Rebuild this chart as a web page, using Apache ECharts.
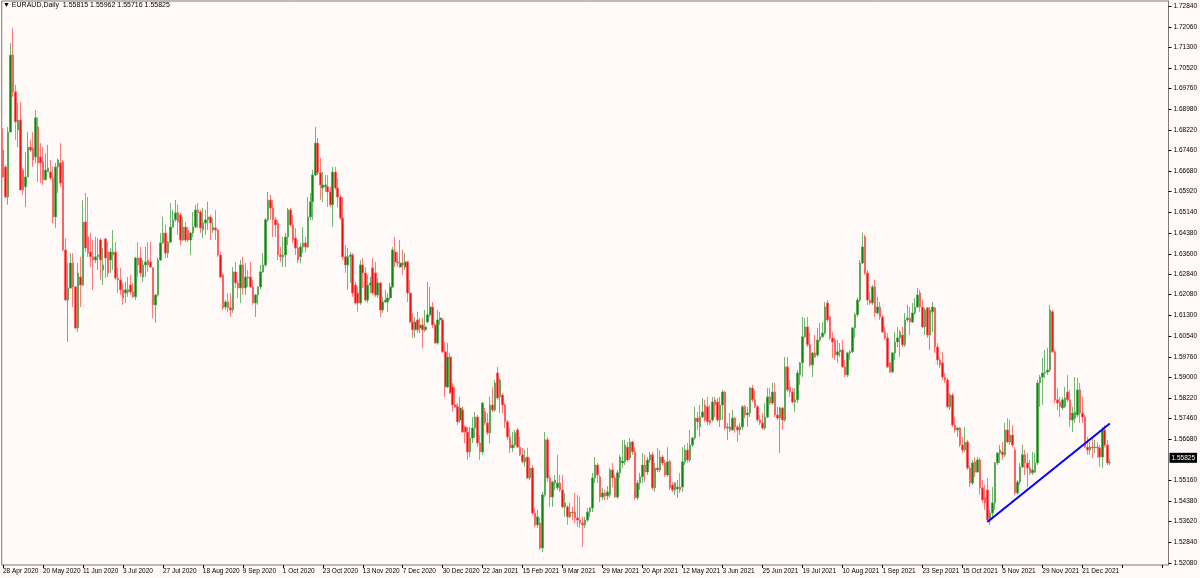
<!DOCTYPE html>
<html><head><meta charset="utf-8">
<script src="https://cdn.jsdelivr.net/npm/echarts@6/dist/echarts.min.js"></script>
<style>html,body{margin:0;padding:0;background:#fffaf7;}#c{width:1200px;height:578px;}</style>
</head><body><div id="c"></div>
<script>
const symbol = 'EURAUD';
const period = 'Daily';
const tickLabels = ['28 Apr 2020','20 May 2020','11 Jun 2020','3 Jul 2020','27 Jul 2020','18 Aug 2020','9 Sep 2020','1 Oct 2020','23 Oct 2020','13 Nov 2020','7 Dec 2020','30 Dec 2020','22 Jan 2021','15 Feb 2021','9 Mar 2021','29 Mar 2021','20 Apr 2021','12 May 2021','3 Jun 2021','25 Jun 2021','19 Jul 2021','10 Aug 2021','1 Sep 2021','23 Sep 2021','15 Oct 2021','5 Nov 2021','29 Nov 2021','21 Dec 2021'];
const yTicks = [1.72840,1.72060,1.71300,1.70520,1.69760,1.68980,1.68220,1.67460,1.66680,1.65920,1.65140,1.64380,1.63600,1.62840,1.62080,1.61300,1.60540,1.59760,1.59000,1.58220,1.57460,1.56680,1.55160,1.54380,1.53620,1.52840,1.52080];
const opens = [
1.6747,1.6684,1.6572,1.6814,1.7101,1.6964,1.6822,1.6859,1.6673,1.6610,
1.6647,1.6758,1.6755,1.6721,1.6833,1.6721,1.6703,1.6636,1.6665,1.6665,
1.6643,1.6498,1.6684,1.6699,1.6703,1.6375,1.6188,1.6233,1.6326,1.6237,
1.6084,1.6274,1.6244,1.6479,1.6423,1.6367,1.6349,1.6337,1.6349,1.6412,
1.6300,1.6416,1.6367,1.6337,1.6356,1.6367,1.6270,1.6263,1.6226,1.6214,
1.6218,1.6244,1.6218,1.6200,1.6345,1.6345,1.6274,1.6319,1.6337,1.6330,
1.6308,1.6170,1.6207,1.6337,1.6401,1.6438,1.6363,1.6404,1.6460,1.6487,
1.6513,1.6505,1.6412,1.6460,1.6449,1.6412,1.6438,1.6460,1.6524,1.6516,
1.6449,1.6475,1.6487,1.6498,1.6449,1.6457,1.6449,1.6356,1.6282,1.6162,
1.6181,1.6159,1.6151,1.6293,1.6252,1.6233,1.6319,1.6233,1.6274,1.6274,
1.6237,1.6177,1.6207,1.6237,1.6293,1.6319,1.6487,1.6561,1.6531,1.6487,
1.6475,1.6356,1.6349,1.6356,1.6423,1.6524,1.6468,1.6419,1.6382,1.6349,
1.6386,1.6401,1.6386,1.6498,1.6554,1.6654,1.6773,1.6662,1.6606,1.6610,
1.6610,1.6591,1.6543,1.6665,1.6606,1.6572,1.6494,1.6349,1.6319,1.6349,
1.6356,1.6244,1.6214,1.6177,1.6319,1.6289,1.6188,1.6244,1.6308,1.6289,
1.6207,1.6252,1.6151,1.6181,1.6181,1.6196,1.6237,1.6367,1.6330,1.6311,
1.6326,1.6311,1.6330,1.6214,1.6106,1.6077,1.6114,1.6084,1.6095,1.6077,
1.6106,1.6133,1.6162,1.6095,1.6028,1.6114,1.6114,1.5995,1.5864,1.5976,
1.5864,1.5797,1.5790,1.5741,1.5778,1.5715,1.5696,1.5622,1.5674,1.5711,
1.5752,1.5655,1.5622,1.5771,1.5730,1.5693,1.5797,1.5778,1.5916,1.5827,
1.5834,1.5797,1.5734,1.5678,1.5637,1.5648,1.5704,1.5640,1.5611,1.5585,
1.5603,1.5525,1.5562,1.5394,1.5350,1.5357,1.5264,1.5462,1.5667,1.5525,
1.5454,1.5506,1.5488,1.5506,1.5480,1.5417,1.5417,1.5380,1.5398,1.5398,
1.5376,1.5368,1.5357,1.5350,1.5368,1.5398,1.5413,1.5525,1.5573,1.5529,
1.5454,1.5469,1.5458,1.5462,1.5555,1.5525,1.5454,1.5544,1.5581,1.5585,
1.5640,1.5600,1.5659,1.5622,1.5451,1.5506,1.5529,1.5573,1.5547,1.5592,
1.5611,1.5488,1.5562,1.5555,1.5603,1.5581,1.5536,1.5585,1.5499,1.5480,
1.5484,1.5491,1.5491,1.5585,1.5629,1.5592,1.5648,1.5674,1.5748,1.5715,
1.5752,1.5797,1.5790,1.5741,1.5741,1.5816,1.5808,1.5741,1.5797,1.5845,
1.5711,1.5715,1.5704,1.5748,1.5715,1.5704,1.5715,1.5790,1.5760,1.5767,
1.5860,1.5816,1.5790,1.5741,1.5730,1.5711,1.5752,1.5827,1.5804,1.5845,
1.5760,1.5748,1.5786,1.5741,1.5939,1.5864,1.5845,1.5808,1.5816,1.5909,
1.5954,1.6051,1.6088,1.6021,1.5946,1.5991,1.5983,1.6039,1.6051,1.6065,
1.6177,1.6125,1.6047,1.6039,1.5983,1.5995,1.6002,1.5939,1.5909,1.5991,
1.5995,1.6084,1.6133,1.6188,1.6326,1.6423,1.6289,1.6188,1.6177,1.6237,
1.6140,1.6162,1.6125,1.6069,1.6047,1.5954,1.5920,1.5991,1.6032,1.6047,
1.6058,1.6021,1.6114,1.6121,1.6106,1.6140,1.6162,1.6214,1.6162,1.6088,
1.6159,1.6058,1.6144,1.6159,1.6013,1.5965,1.5954,1.5901,1.5890,1.5790,
1.5834,1.5722,1.5704,1.5711,1.5648,1.5629,1.5659,1.5562,1.5506,1.5585,
1.5547,1.5592,1.5488,1.5451,1.5480,1.5368,1.5394,1.5432,1.5581,1.5618,
1.5622,1.5611,1.5704,1.5659,1.5685,1.5629,1.5469,1.5510,1.5566,1.5611,
1.5581,1.5562,1.5544,1.5547,1.5581,1.5879,1.5901,1.5916,1.5920,1.5927,
1.6144,1.5995,1.5816,1.5808,1.5786,1.5790,1.5845,1.5816,1.5741,1.5748,
1.5760,1.5853,1.5767,1.5752,1.5640,1.5629,1.5640,1.5637,1.5640,1.5637,
1.5603,1.5704,1.5648,1.55815];
const closes = [
1.6647,1.6572,1.6814,1.7101,1.6964,1.6852,1.6859,1.6598,1.6598,1.6647,
1.6758,1.6747,1.6710,1.6867,1.6699,1.6699,1.6636,1.6673,1.6680,1.6643,
1.6498,1.6684,1.6710,1.6624,1.6375,1.6188,1.6233,1.6326,1.6237,1.6084,
1.6289,1.6244,1.6479,1.6382,1.6363,1.6349,1.6337,1.6349,1.6356,1.6337,
1.6319,1.6345,1.6289,1.6367,1.6367,1.6270,1.6263,1.6226,1.6196,1.6226,
1.6226,1.6218,1.6200,1.6345,1.6319,1.6289,1.6319,1.6330,1.6319,1.6311,
1.6170,1.6207,1.6337,1.6401,1.6438,1.6363,1.6404,1.6460,1.6487,1.6513,
1.6479,1.6412,1.6460,1.6412,1.6412,1.6438,1.6460,1.6524,1.6513,1.6457,
1.6475,1.6487,1.6498,1.6475,1.6460,1.6449,1.6356,1.6274,1.6159,1.6181,
1.6159,1.6151,1.6293,1.6252,1.6233,1.6319,1.6233,1.6274,1.6270,1.6237,
1.6177,1.6207,1.6237,1.6293,1.6319,1.6487,1.6561,1.6531,1.6487,1.6468,
1.6356,1.6349,1.6356,1.6423,1.6524,1.6468,1.6412,1.6382,1.6337,1.6386,
1.6401,1.6386,1.6498,1.6554,1.6654,1.6773,1.6662,1.6617,1.6617,1.6617,
1.6591,1.6543,1.6665,1.6606,1.6572,1.6494,1.6349,1.6319,1.6349,1.6356,
1.6214,1.6177,1.6177,1.6319,1.6289,1.6188,1.6244,1.6252,1.6214,1.6207,
1.6252,1.6151,1.6181,1.6188,1.6196,1.6237,1.6375,1.6330,1.6326,1.6326,
1.6319,1.6330,1.6214,1.6106,1.6077,1.6106,1.6077,1.6095,1.6077,1.6088,
1.6133,1.6162,1.6095,1.6028,1.6114,1.6121,1.5995,1.5864,1.5976,1.5842,
1.5797,1.5790,1.5734,1.5786,1.5696,1.5696,1.5622,1.5674,1.5711,1.5752,
1.5655,1.5622,1.5804,1.5730,1.5693,1.5797,1.5778,1.5879,1.5823,1.5890,
1.5797,1.5734,1.5678,1.5637,1.5648,1.5693,1.5640,1.5611,1.5585,1.5600,
1.5525,1.5562,1.5394,1.5350,1.5380,1.5264,1.5462,1.5667,1.5525,1.5454,
1.5510,1.5517,1.5506,1.5480,1.5417,1.5432,1.5380,1.5398,1.5394,1.5376,
1.5368,1.5357,1.5350,1.5368,1.5398,1.5413,1.5525,1.5573,1.5536,1.5454,
1.5469,1.5458,1.5473,1.5555,1.5525,1.5454,1.5544,1.5603,1.5588,1.5648,
1.5592,1.5659,1.5622,1.5451,1.5506,1.5529,1.5573,1.5547,1.5592,1.5611,
1.5488,1.5562,1.5555,1.5603,1.5581,1.5536,1.5585,1.5488,1.5480,1.5506,
1.5491,1.5480,1.5585,1.5629,1.5592,1.5648,1.5674,1.5748,1.5734,1.5752,
1.5771,1.5741,1.5734,1.5730,1.5808,1.5797,1.5741,1.5797,1.5845,1.5711,
1.5715,1.5704,1.5748,1.5715,1.5704,1.5715,1.5790,1.5760,1.5767,1.5860,
1.5816,1.5790,1.5741,1.5730,1.5711,1.5752,1.5827,1.5804,1.5845,1.5760,
1.5748,1.5786,1.5741,1.5939,1.5853,1.5845,1.5808,1.5816,1.5916,1.5954,
1.6051,1.6088,1.6021,1.5946,1.5991,1.5976,1.6039,1.6051,1.6065,1.6162,
1.6114,1.6047,1.6032,1.5983,1.5995,1.6002,1.5939,1.5909,1.5991,1.5995,
1.6084,1.6133,1.6188,1.6326,1.6386,1.6289,1.6188,1.6177,1.6237,1.6140,
1.6162,1.6125,1.6069,1.6047,1.5939,1.5920,1.5991,1.6032,1.6047,1.6069,
1.6021,1.6114,1.6121,1.6106,1.6140,1.6162,1.6207,1.6162,1.6088,1.6151,
1.6058,1.6151,1.6162,1.6013,1.5965,1.5946,1.5901,1.5890,1.5790,1.5834,
1.5722,1.5704,1.5711,1.5648,1.5629,1.5659,1.5562,1.5506,1.5581,1.5547,
1.5592,1.5488,1.5443,1.5432,1.5368,1.5394,1.5432,1.5581,1.5618,1.5629,
1.5611,1.5704,1.5659,1.5685,1.5648,1.5469,1.5510,1.5566,1.5611,1.5581,
1.5562,1.5544,1.5555,1.5581,1.5879,1.5901,1.5916,1.5920,1.5927,1.6151,
1.5995,1.5816,1.5804,1.5790,1.5816,1.5823,1.5816,1.5741,1.5767,1.5771,
1.5853,1.5767,1.5752,1.5640,1.5629,1.5640,1.5637,1.5640,1.5637,1.5603,
1.5704,1.5648,1.5581,1.55825];
const lows = [
1.6643,1.6569,1.6543,1.6814,1.6945,1.6785,1.6758,1.6598,1.6580,1.6535,
1.6647,1.6740,1.6684,1.6699,1.6628,1.6624,1.6617,1.6636,1.6665,1.6636,
1.6475,1.6457,1.6587,1.6610,1.6370,1.6185,1.6032,1.6230,1.6162,1.6080,
1.6069,1.6162,1.6240,1.6367,1.6349,1.6311,1.6226,1.6326,1.6300,1.6263,
1.6244,1.6270,1.6274,1.6289,1.6300,1.6263,1.6214,1.6207,1.6170,1.6177,
1.6200,1.6207,1.6196,1.6188,1.6274,1.6274,1.6256,1.6274,1.6293,1.6308,
1.6121,1.6103,1.6200,1.6334,1.6397,1.6345,1.6345,1.6400,1.6457,1.6479,
1.6431,1.6393,1.6408,1.6404,1.6404,1.6356,1.6423,1.6457,1.6457,1.6438,
1.6419,1.6431,1.6449,1.6412,1.6438,1.6412,1.6349,1.6270,1.6151,1.6151,
1.6144,1.6125,1.6140,1.6233,1.6196,1.6177,1.6207,1.6207,1.6237,1.6233,
1.6170,1.6125,1.6170,1.6226,1.6289,1.6311,1.6479,1.6487,1.6423,1.6423,
1.6337,1.6330,1.6311,1.6311,1.6393,1.6460,1.6401,1.6356,1.6326,1.6326,
1.6363,1.6367,1.6382,1.6487,1.6487,1.6650,1.6654,1.6561,1.6554,1.6591,
1.6535,1.6535,1.6460,1.6598,1.6535,1.6487,1.6337,1.6289,1.6226,1.6252,
1.6200,1.6170,1.6144,1.6170,1.6233,1.6181,1.6177,1.6214,1.6207,1.6200,
1.6196,1.6125,1.6140,1.6177,1.6144,1.6188,1.6233,1.6311,1.6311,1.6308,
1.6282,1.6300,1.6181,1.6103,1.6047,1.6047,1.6065,1.6065,1.6010,1.6069,
1.6103,1.6125,1.6084,1.6025,1.6021,1.6095,1.5991,1.5827,1.5860,1.5838,
1.5771,1.5786,1.5722,1.5730,1.5693,1.5655,1.5592,1.5603,1.5655,1.5674,
1.5640,1.5592,1.5611,1.5722,1.5685,1.5655,1.5771,1.5771,1.5816,1.5767,
1.5767,1.5711,1.5667,1.5618,1.5622,1.5637,1.5637,1.5607,1.5581,1.5566,
1.5521,1.5517,1.5387,1.5342,1.5339,1.5257,1.5249,1.5454,1.5510,1.5417,
1.5417,1.5480,1.5480,1.5473,1.5413,1.5380,1.5350,1.5376,1.5368,1.5357,
1.5342,1.5339,1.5268,1.5339,1.5361,1.5380,1.5398,1.5506,1.5506,1.5435,
1.5443,1.5443,1.5443,1.5451,1.5491,1.5451,1.5447,1.5525,1.5562,1.5573,
1.5585,1.5592,1.5611,1.5443,1.5443,1.5480,1.5506,1.5510,1.5536,1.5581,
1.5480,1.5473,1.5547,1.5547,1.5573,1.5529,1.5529,1.5480,1.5473,1.5462,
1.5451,1.5469,1.5473,1.5573,1.5581,1.5585,1.5640,1.5667,1.5704,1.5678,
1.5748,1.5734,1.5722,1.5722,1.5734,1.5752,1.5734,1.5715,1.5741,1.5704,
1.5667,1.5696,1.5700,1.5693,1.5659,1.5685,1.5704,1.5748,1.5715,1.5752,
1.5808,1.5786,1.5734,1.5722,1.5704,1.5704,1.5748,1.5797,1.5797,1.5752,
1.5741,1.5618,1.5704,1.5734,1.5845,1.5827,1.5804,1.5771,1.5804,1.5872,
1.5901,1.6047,1.6013,1.5939,1.5901,1.5972,1.5976,1.6032,1.6047,1.6058,
1.6106,1.6039,1.5972,1.5965,1.5954,1.5976,1.5935,1.5901,1.5901,1.5965,
1.5991,1.6047,1.6125,1.6181,1.6323,1.6282,1.6170,1.6170,1.6170,1.6125,
1.6133,1.6114,1.6065,1.6039,1.5935,1.5916,1.5916,1.5965,1.6013,1.5976,
1.6013,1.6013,1.6106,1.6058,1.6103,1.6133,1.6159,1.6144,1.6084,1.6058,
1.6047,1.6002,1.6069,1.5991,1.5946,1.5935,1.5890,1.5879,1.5786,1.5778,
1.5715,1.5693,1.5678,1.5640,1.5618,1.5622,1.5555,1.5491,1.5499,1.5529,
1.5544,1.5462,1.5432,1.5406,1.5361,1.5350,1.5380,1.5406,1.5573,1.5581,
1.5592,1.5603,1.5655,1.5648,1.5640,1.5462,1.5462,1.5499,1.5562,1.5536,
1.5491,1.5536,1.5536,1.5544,1.5573,1.5790,1.5797,1.5898,1.5909,1.5920,
1.5991,1.5804,1.5778,1.5752,1.5778,1.5786,1.5808,1.5715,1.5696,1.5730,
1.5752,1.5730,1.5730,1.5637,1.5611,1.5611,1.5600,1.5618,1.5600,1.5566,
1.5562,1.5640,1.5573,1.55716];
const highs = [
1.6829,1.6692,1.6833,1.7146,1.7202,1.6990,1.6923,1.6926,1.6680,1.6740,
1.6814,1.6785,1.6814,1.6896,1.6870,1.6773,1.6758,1.6736,1.6766,1.6710,
1.6684,1.6699,1.6715,1.6773,1.6710,1.6419,1.6326,1.6363,1.6363,1.6240,
1.6326,1.6349,1.6561,1.6587,1.6572,1.6438,1.6412,1.6423,1.6419,1.6419,
1.6382,1.6419,1.6404,1.6382,1.6449,1.6404,1.6308,1.6308,1.6252,1.6256,
1.6274,1.6282,1.6252,1.6349,1.6404,1.6386,1.6337,1.6386,1.6404,1.6404,
1.6311,1.6210,1.6345,1.6438,1.6498,1.6468,1.6408,1.6550,1.6524,1.6561,
1.6543,1.6513,1.6498,1.6479,1.6460,1.6442,1.6516,1.6543,1.6550,1.6524,
1.6531,1.6524,1.6554,1.6505,1.6494,1.6524,1.6453,1.6367,1.6289,1.6188,
1.6214,1.6214,1.6311,1.6330,1.6263,1.6337,1.6349,1.6326,1.6300,1.6330,
1.6263,1.6210,1.6240,1.6319,1.6363,1.6494,1.6591,1.6580,1.6561,1.6498,
1.6487,1.6386,1.6423,1.6438,1.6531,1.6531,1.6505,1.6457,1.6412,1.6401,
1.6460,1.6423,1.6572,1.6587,1.6673,1.6833,1.6792,1.6718,1.6665,1.6654,
1.6654,1.6610,1.6684,1.6684,1.6643,1.6580,1.6572,1.6393,1.6382,1.6367,
1.6363,1.6256,1.6237,1.6337,1.6345,1.6311,1.6282,1.6274,1.6345,1.6330,
1.6270,1.6256,1.6200,1.6226,1.6214,1.6252,1.6386,1.6423,1.6367,1.6412,
1.6375,1.6363,1.6334,1.6263,1.6140,1.6125,1.6144,1.6121,1.6121,1.6151,
1.6256,1.6237,1.6181,1.6103,1.6151,1.6144,1.6121,1.6032,1.6028,1.5991,
1.5879,1.5864,1.5804,1.5827,1.5790,1.5722,1.5715,1.5715,1.5752,1.5771,
1.5760,1.5685,1.5808,1.5786,1.5767,1.5827,1.5864,1.5890,1.5939,1.5898,
1.5842,1.5804,1.5741,1.5711,1.5696,1.5704,1.5711,1.5678,1.5637,1.5629,
1.5637,1.5600,1.5573,1.5413,1.5406,1.5376,1.5473,1.5696,1.5678,1.5536,
1.5514,1.5536,1.5611,1.5536,1.5536,1.5469,1.5424,1.5432,1.5417,1.5469,
1.5462,1.5454,1.5380,1.5380,1.5413,1.5417,1.5544,1.5603,1.5581,1.5536,
1.5488,1.5480,1.5495,1.5562,1.5581,1.5536,1.5555,1.5611,1.5667,1.5667,
1.5659,1.5674,1.5663,1.5640,1.5517,1.5544,1.5618,1.5611,1.5603,1.5622,
1.5622,1.5581,1.5637,1.5629,1.5611,1.5592,1.5640,1.5592,1.5510,1.5510,
1.5517,1.5544,1.5640,1.5648,1.5655,1.5704,1.5678,1.5790,1.5771,1.5797,
1.5823,1.5816,1.5827,1.5797,1.5827,1.5827,1.5823,1.5827,1.5853,1.5849,
1.5730,1.5767,1.5778,1.5752,1.5722,1.5730,1.5797,1.5797,1.5790,1.5864,
1.5872,1.5853,1.5797,1.5760,1.5767,1.5804,1.5860,1.5860,1.5879,1.5879,
1.5790,1.5790,1.5790,1.5976,1.5976,1.5890,1.5860,1.5860,1.5927,1.5957,
1.6125,1.6121,1.6125,1.6065,1.5995,1.6058,1.6084,1.6103,1.6106,1.6181,
1.6188,1.6129,1.6069,1.6047,1.6039,1.6028,1.6039,1.5965,1.5995,1.6002,
1.6088,1.6140,1.6196,1.6337,1.6438,1.6431,1.6300,1.6218,1.6244,1.6263,
1.6200,1.6181,1.6133,1.6088,1.6065,1.5957,1.5995,1.6069,1.6088,1.6077,
1.6088,1.6140,1.6170,1.6162,1.6177,1.6196,1.6233,1.6226,1.6188,1.6159,
1.6162,1.6162,1.6181,1.6162,1.6028,1.5976,1.5995,1.5916,1.5898,1.5842,
1.5842,1.5752,1.5715,1.5715,1.5678,1.5715,1.5667,1.5573,1.5592,1.5603,
1.5603,1.5600,1.5517,1.5499,1.5525,1.5406,1.5491,1.5585,1.5622,1.5648,
1.5659,1.5730,1.5748,1.5741,1.5722,1.5640,1.5517,1.5581,1.5648,1.5629,
1.5618,1.5592,1.5622,1.5618,1.5890,1.5909,1.5972,1.6002,1.6010,1.6170,
1.6151,1.6002,1.5860,1.5827,1.5827,1.5864,1.5909,1.5853,1.5790,1.5901,
1.5898,1.5879,1.5827,1.5760,1.5678,1.5659,1.5678,1.5667,1.5659,1.5648,
1.5715,1.5722,1.5667,1.55962];
const trendline = [[394, 1.5361], [443, 1.5728]];
const totalSlots = 467;

// trading-day categories (weekdays, broker closed 25 Dec and 1 Jan)
const categories = [];
const d = new Date(Date.UTC(2020, 3, 28));
while (categories.length < totalSlots) {
  const wd = d.getUTCDay(), m = d.getUTCMonth(), dd = d.getUTCDate();
  if (wd !== 0 && wd !== 6 && !(m === 11 && dd === 25) && !(m === 0 && dd === 1)) {
    categories.push(d.toISOString().slice(0, 10));
  }
  d.setUTCDate(d.getUTCDate() + 1);
}

const candles = opens.map((o, i) => [o, closes[i], lows[i], highs[i]]);
const last = opens.length - 1;
const lastPrice = closes[last];
const header = '\u25BC ' + symbol + ',' + period + '  ' +
  [opens[last], highs[last], lows[last], closes[last]].map(v => v.toFixed(5)).join(' ');

const FONT = 'Liberation Sans';
const chart = echarts.init(document.getElementById('c'), null, {renderer: 'canvas'});
chart.setOption({
  animation: false,
  backgroundColor: '#fffaf7',
  grid: {left: 1, right: 29, top: 1, bottom: 13, show: true, borderColor: '#7a7a7a', borderWidth: 1, containLabel: false},
  graphic: [{type: 'text', left: 3, top: 2, style: {text: header, fontSize: 7, fill: '#000', fontFamily: FONT}}],
  xAxis: {
    type: 'category', data: categories, boundaryGap: true,
    axisLine: {show: false},
    axisTick: {show: true, interval: (i) => i % 16 === 0, alignWithLabel: true, length: 3, lineStyle: {color: '#000'}},
    axisLabel: {interval: (i) => i % 16 === 0, formatter: (v, i) => tickLabels[i / 16] || '', align: 'left',
      fontSize: 6.5, color: '#000', margin: 3, fontFamily: FONT},
    splitLine: {show: false}
  },
  yAxis: {
    type: 'value', position: 'right', min: 1.52005, max: 1.73026, scale: true,
    axisLine: {show: true, lineStyle: {color: '#7a7a7a'}},
    axisTick: {show: true, customValues: yTicks, length: 3, lineStyle: {color: '#000'}},
    axisLabel: {customValues: yTicks, formatter: (v) => Number(v).toFixed(5), fontSize: 6.5, color: '#000', margin: 5, fontFamily: FONT},
    splitLine: {show: false}
  },
  series: [{
    type: 'candlestick', data: candles, barWidth: 2.1,
    itemStyle: {color: '#0b850b', color0: '#ff0a0a', borderColor: '#4ea64e', borderColor0: '#ff5a5a', borderWidth: 0.8},
    markLine: {
      silent: true, symbol: 'none', animation: false,
      data: [
        {yAxis: lastPrice, lineStyle: {color: 'transparent', width: 1},
          label: {show: true, position: 'end', formatter: lastPrice.toFixed(5), backgroundColor: '#000', color: '#fff',
            fontSize: 6.5, fontFamily: FONT, padding: [2, 2, 1, 2], distance: 1}},
        [{coord: trendline[0], lineStyle: {color: '#0000ff', width: 2, type: 'solid'}, label: {show: false}},
         {coord: trendline[1]}]
      ]
    }
  }]
});
</script>
</body></html>
